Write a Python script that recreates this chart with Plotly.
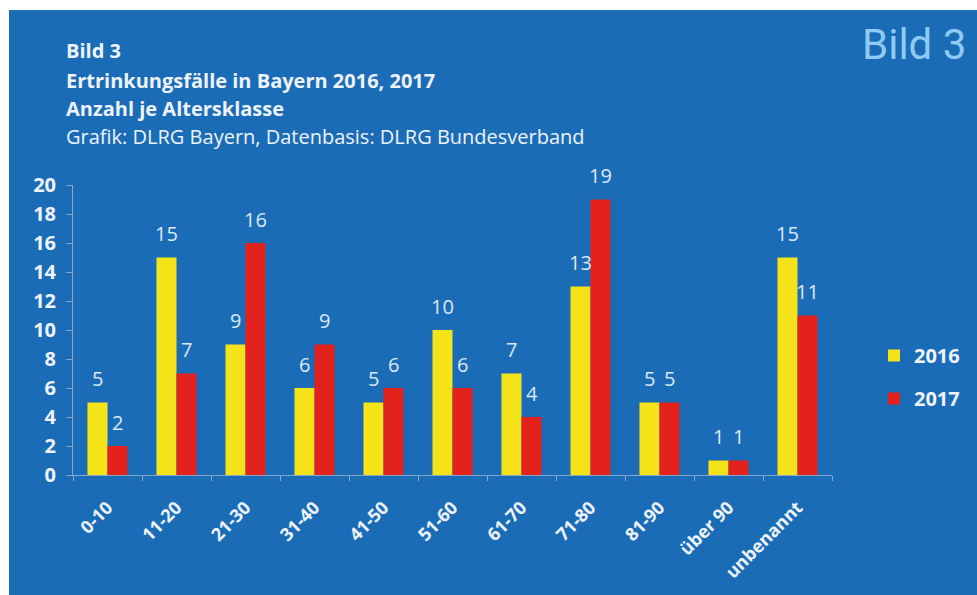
import plotly.graph_objects as go

categories = ["0-10", "11-20", "21-30", "31-40", "41-50", "51-60", "61-70",
              "71-80", "81-90", "über 90", "unbenannt"]
values_2016 = [5, 15, 9, 6, 5, 10, 7, 13, 5, 1, 15]
values_2017 = [2, 7, 16, 9, 6, 6, 4, 19, 5, 1, 11]
series_names = ["2016", "2017"]
y_ticks = list(range(0, 21, 2))

title_lines = [
    ("<b>Bild 3</b>", 50),
    ("<b>Ertrinkungsfälle in Bayern 2016, 2017</b>", 81),
    ("<b>Anzahl je Altersklasse</b>", 109),
    ("Grafik: DLRG Bayern, Datenbasis: DLRG Bundesverband", 137),
]

W, H = 977, 595
L, R, T, B = 73, 145, 185, 120
PW, PH = W - L - R, H - T - B


def px(x):
    return (x - L) / PW


def py(y):
    return (H - B - y) / PH


BLUE = "#1b6cb7"
YELLOW = "#f5e31a"
RED = "#e3221e"
TXT = "#eef3fa"
FONT = "Open Sans, Lato, sans-serif"

fig = go.Figure()
fig.add_trace(go.Bar(x=categories, y=values_2016, name=series_names[0],
                     marker=dict(color=YELLOW, line=dict(width=0)),
                     legendgroup="a"))
fig.add_trace(go.Bar(x=categories, y=values_2017, name=series_names[1],
                     marker=dict(color=RED, line=dict(width=0)),
                     legendgroup="b"))

annotations = []
for vals, shift in ((values_2016, -10), (values_2017, 10)):
    for c, v in zip(categories, vals):
        annotations.append(dict(x=c, y=v, xref="x", yref="y", text=str(v),
                                showarrow=False, xshift=shift, yshift=24,
                                yanchor="middle", xanchor="center",
                                font=dict(family=FONT, size=20, color="#dde8f5")))

for text, y in title_lines:
    annotations.append(dict(x=px(64), y=py(y), xref="paper", yref="paper",
                            text=text, showarrow=False, xanchor="left",
                            yanchor="middle",
                            font=dict(family=FONT, size=20, color=TXT)))

annotations.append(dict(x=px(968), y=py(44), xref="paper", yref="paper",
                        text="Bild 3", showarrow=False, xanchor="right",
                        yanchor="middle",
                        font=dict(family="Roboto, sans-serif", size=42,
                                  color="#8ecbf2")))

shapes = [dict(type="rect", xref="paper", yref="paper",
               x0=px(9), x1=px(W + 5), y0=py(H + 5), y1=py(10),
               fillcolor=BLUE, line=dict(width=0), layer="below")]

fig.update_layout(
    width=W, height=H,
    margin=dict(l=L, r=R, t=T, b=B, pad=0, autoexpand=False),
    paper_bgcolor="white",
    plot_bgcolor="rgba(0,0,0,0)",
    barmode="group", bargap=0.42, bargroupgap=0,
    font=dict(family=FONT, color=TXT),
    showlegend=True,
    legend=dict(x=px(874), y=py(377), xanchor="left", yanchor="middle",
                font=dict(family=FONT, size=20, color=TXT, weight="bold"),
                tracegroupgap=14, bgcolor="rgba(0,0,0,0)",
                itemwidth=30),
    xaxis=dict(type="category", showgrid=False, showline=True,
               linecolor="#8aa6c8", linewidth=1, ticks="outside",
               tickson="boundaries", ticklen=5, tickcolor="#8aa6c8",
               tickangle=-45, ticklabelstandoff=14, automargin=False,
               tickfont=dict(family=FONT, size=18, color=TXT, weight="bold"),
               fixedrange=True),
    yaxis=dict(range=[0, 20], tickvals=y_ticks, showgrid=False,
               zeroline=False, showline=True, linecolor="#8aa6c8",
               linewidth=1, ticks="outside", ticklen=6, tickcolor="#8aa6c8",
               tickfont=dict(family=FONT, size=20, color=TXT, weight="bold"),
               ticklabelstandoff=6, automargin=False, fixedrange=True),
    annotations=annotations,
    shapes=shapes,
)
for tr in fig.data:
    tr.cliponaxis = False

fig.write_html("out.html")
